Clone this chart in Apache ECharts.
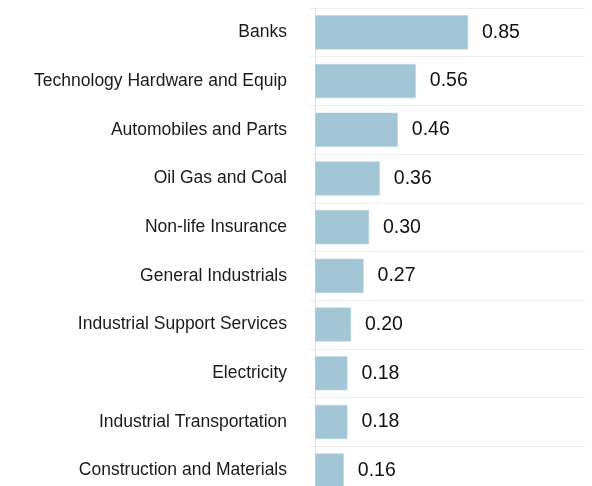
<!DOCTYPE html>
<html>
<head>
<meta charset="utf-8">
<script src="https://cdn.jsdelivr.net/npm/echarts@6/dist/echarts.min.js"></script>
<style>html,body{margin:0;padding:0;background:#fff;}#c{width:592px;height:486px;}</style>
</head>
<body>
<div id="c"></div>
<script>
const categories = ["Banks","Technology Hardware and Equip","Automobiles and Parts","Oil Gas and Coal","Non-life Insurance","General Industrials","Industrial Support Services","Electricity","Industrial Transportation","Construction and Materials"];
const values = [0.85,0.56,0.46,0.36,0.30,0.27,0.20,0.18,0.18,0.16];

const chart = echarts.init(document.getElementById('c'), null, {renderer:'canvas'});
chart.setOption({
  animation:false,
  backgroundColor:'#ffffff',
  grid:{left:315,right:7,top:8,height:487,containLabel:false,outerBoundsMode:'none'},
  xAxis:{type:'value',min:0,max:1.5,show:false,splitLine:{show:false}},
  yAxis:{
    type:'category',data:categories,inverse:true,
    axisLine:{show:true,lineStyle:{color:'#e4e4e4',width:1}},
    axisTick:{show:true,length:5,lineStyle:{color:'#eeeeee'}},
    splitLine:{show:true,lineStyle:{color:'#eeeeee',width:1}},
    axisLabel:{color:'#1a1a1a',fontFamily:'Liberation Sans, Arial, sans-serif',fontSize:17.5,margin:28}
  },
  series:[{
    type:'bar',data:values,barCategoryGap:'30%',
    itemStyle:{color:'#a3c6d6',borderColor:'#b3d2e0',borderWidth:0.5},
    label:{show:true,position:'right',distance:14,color:'#111',fontFamily:'Liberation Sans, Arial, sans-serif',fontSize:19.5,formatter:p=>p.value.toFixed(2)}
  }]
});
</script>
</body>
</html>
